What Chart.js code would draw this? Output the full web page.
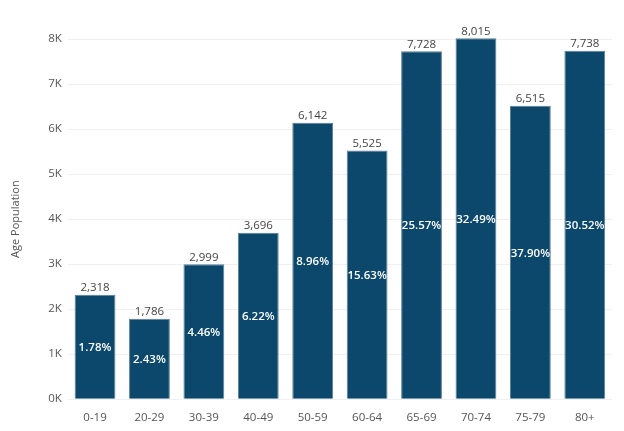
<!DOCTYPE html>
<html lang="en">
<head>
    <meta charset="UTF-8">
    <title>Age Population</title>
    <script src="https://cdn.jsdelivr.net/npm/chart.js"></script>
    <style>
        body { margin: 0; background: #ffffff; }
        .chart-container { width: 624px; height: 431px; position: relative; }
    </style>
</head>
<body>
    <div class="chart-container">
        <canvas id="ageChart"></canvas>
    </div>

    <script>
        const ageGroups = ['0-19', '20-29', '30-39', '40-49', '50-59', '60-64', '65-69', '70-74', '75-79', '80+'];
        const population = [2318, 1786, 2999, 3696, 6142, 5525, 7728, 8015, 6515, 7738];
        const shares = [1.78, 2.43, 4.46, 6.22, 8.96, 15.63, 25.57, 32.49, 37.90, 30.52];
        const yTicks = [0, 1000, 2000, 3000, 4000, 5000, 6000, 7000, 8000];

        const fontFamily = "'Segoe UI', 'Open Sans', sans-serif";

        // draws the value above each bar and the share in the middle of it
        const barLabels = {
            id: 'barLabels',
            afterDatasetsDraw(chart) {
                const ctx = chart.ctx;
                const meta = chart.getDatasetMeta(0);
                ctx.save();
                ctx.textAlign = 'center';
                meta.data.forEach((bar, i) => {
                    ctx.fillStyle = '#444444';
                    ctx.font = '11.5px ' + fontFamily;
                    ctx.textBaseline = 'bottom';
                    ctx.fillText(population[i].toLocaleString('en-US'), bar.x, bar.y - 1);

                    ctx.fillStyle = '#ffffff';
                    ctx.font = '600 11.5px ' + fontFamily;
                    ctx.textBaseline = 'middle';
                    ctx.fillText(shares[i].toFixed(2) + '%', bar.x, (bar.y + bar.base) / 2 + 1);
                });
                ctx.restore();
            }
        };

        const ctx = document.getElementById('ageChart').getContext('2d');
        new Chart(ctx, {
            type: 'bar',
            data: {
                labels: ageGroups,
                datasets: [{
                    label: 'Age Population',
                    data: population,
                    backgroundColor: '#0c486c',
                    borderColor: '#5a7f98',
                    borderWidth: 1,
                    barPercentage: 0.75,
                    categoryPercentage: 1.0,
                    clip: false
                }]
            },
            options: {
                responsive: true,
                maintainAspectRatio: false,
                animation: false,
                layout: { padding: { top: 39, right: 12, left: 9, bottom: -6 } },
                plugins: {
                    legend: { display: false },
                    tooltip: { enabled: false }
                },
                scales: {
                    x: {
                        grid: { display: false, drawTicks: false },
                        border: { display: false },
                        ticks: { color: '#555555', font: { size: 11.5, family: fontFamily }, padding: 12 }
                    },
                    y: {
                        min: 0,
                        max: 8000,
                        afterBuildTicks: axis => { axis.ticks = yTicks.map(v => ({ value: v })); },
                        grid: { color: '#f0f0f0', drawTicks: false },
                        border: { display: false },
                        ticks: {
                            color: '#555555',
                            font: { size: 11.5, family: fontFamily },
                            padding: 6,
                            callback: v => (v / 1000) + 'K'
                        },
                        title: {
                            display: true,
                            text: 'Age Population',
                            color: '#555555',
                            font: { size: 11, family: fontFamily },
                            padding: { top: 0, bottom: 20 }
                        }
                    }
                }
            },
            plugins: [barLabels]
        });
    </script>
</body>
</html>
